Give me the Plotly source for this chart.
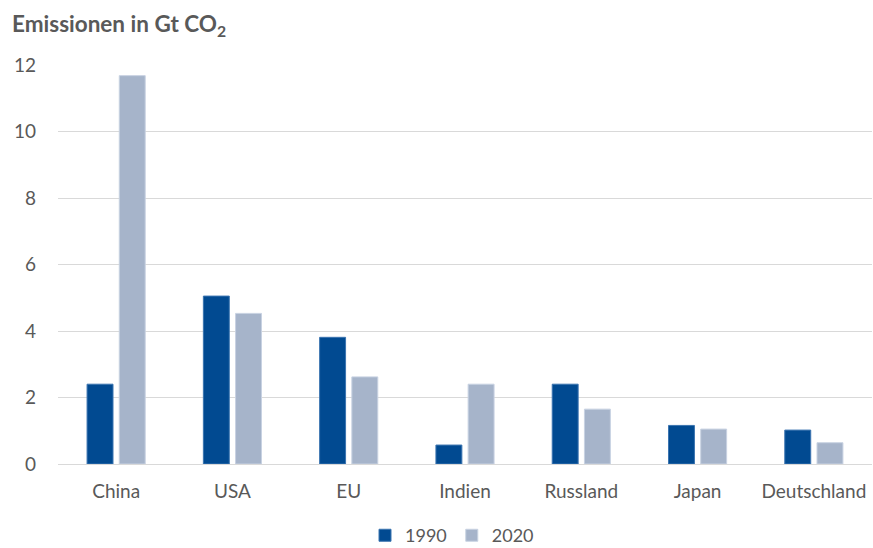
import plotly.graph_objects as go

categories = ["China", "USA", "EU", "Indien", "Russland", "Japan", "Deutschland"]
values_1990 = [2.40, 5.05, 3.81, 0.57, 2.40, 1.16, 1.02]
values_2020 = [11.68, 4.53, 2.62, 2.40, 1.65, 1.05, 0.64]
y_ticks = [0, 2, 4, 6, 8, 10, 12]

C1990 = "#014A91"
C2020 = "#A6B4CA"
GRAY = "#595959"
FONT = "Lato"
FS = 19

fig = go.Figure()
fig.add_trace(go.Bar(name="1990", x=categories, y=values_1990,
                     marker=dict(color=C1990, line=dict(color="#3b74b0", width=1))))
fig.add_trace(go.Bar(name="2020", x=categories, y=values_2020,
                     marker=dict(color=C2020, line=dict(color="#c8d2e2", width=1))))

L, R, T, B = 58, 1, 64.5, 83.7
W, H = 873, 548
pw = W - L - R
ph = H - T - B

fig.update_layout(
    width=W, height=H,
    margin=dict(l=L, r=R, t=T, b=B, autoexpand=False),
    plot_bgcolor="white", paper_bgcolor="white",
    barmode="group", bargap=0.446, bargroupgap=0.195,
    font=dict(family=FONT, size=FS, color=GRAY),
    showlegend=True,
    legend=dict(orientation="h", x=(452 - L) / pw, xanchor="center",
                y=(H - B - 536) / ph, yanchor="middle",
                font=dict(family=FONT, size=18, color=GRAY),
                itemwidth=30, tracegroupgap=0, traceorder="normal"),
    xaxis=dict(showgrid=False, showline=False, ticks="", ticklabelstandoff=14,
               tickfont=dict(size=FS, color=GRAY)),
    yaxis=dict(range=[0, 12], tickvals=y_ticks, showgrid=True, gridcolor="#d9d9d9",
               gridwidth=1, zeroline=True, zerolinecolor="#d9d9d9", zerolinewidth=1,
               ticks="", ticklabelstandoff=21, tickfont=dict(size=FS, color=GRAY)),
    annotations=[dict(text="<b>Emissionen in Gt CO<sub>2</sub></b>", xref="paper", yref="paper",
                      x=(10 - L) / pw, y=(H - B - 24) / ph, xanchor="left", yanchor="middle",
                      showarrow=False, font=dict(family=FONT, size=22.5, color=GRAY))],
)

fig.write_html("out.html")
